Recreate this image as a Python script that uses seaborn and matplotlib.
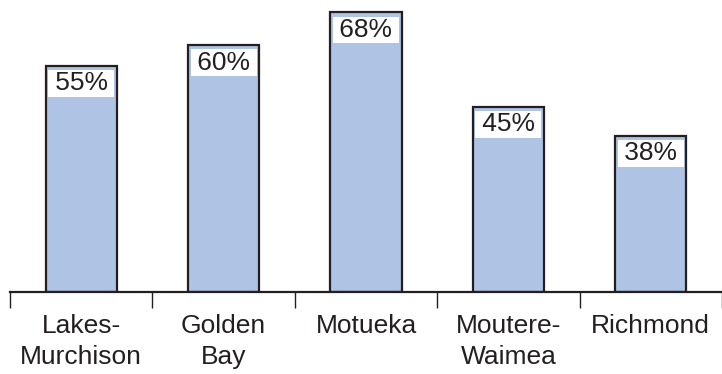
import matplotlib
matplotlib.use("Agg")
import matplotlib.pyplot as plt
import seaborn as sns

regions = ["Lakes-\nMurchison", "Golden\nBay", "Motueka", "Moutere-\nWaimea", "Richmond"]
shares = [55, 60, 68, 45, 38]
# thin spaces give the white label box a bit of side room
bar_labels = [f"\u2009{v}%\u2009" for v in shares]

sns.set_theme(style="white")
plt.rcParams["font.family"] = ["Liberation Sans", "DejaVu Sans"]

fig = plt.figure(figsize=(7.22, 3.74), dpi=100)
ax = fig.add_axes([10 / 722, 82 / 374, 712 / 722, 292 / 374])

sns.barplot(x=regions, y=shares, color="#afc4e4", edgecolor="#231f20",
            linewidth=1.6, width=0.5, saturation=1, ax=ax)

for i, (v, lab) in enumerate(zip(shares, bar_labels)):
    ax.annotate(lab, xy=(i, v), xytext=(0, -4), textcoords="offset points",
                ha="center", va="top", fontsize=19, color="#231f20",
                bbox=dict(boxstyle="square,pad=0.05", fc="white", ec="none"))

ax.set_xlim(-0.5, -0.5 + 712 / 144)
ax.set_ylim(0, 71)
ax.set_yticks([])
ax.set_xlabel("")
ax.set_ylabel("")
for s in ["top", "right", "left"]:
    ax.spines[s].set_visible(False)
ax.spines["bottom"].set_linewidth(1.6)
ax.spines["bottom"].set_color("#231f20")

# boundaries as major ticks, names on minor ticks
ax.set_xticks([i - 0.5 for i in range(len(regions) + 1)])
ax.set_xticklabels([])
ax.set_xticks(range(len(regions)), minor=True)
ax.set_xticklabels(regions, minor=True, fontsize=19, color="#231f20",
                   linespacing=1.35)
ax.tick_params(axis="x", which="major", direction="out", length=11.5,
               width=1.0, color="#231f20", bottom=True)
ax.tick_params(axis="x", which="minor", length=0, pad=16, bottom=True)

fig.savefig("out.png", dpi=100)
